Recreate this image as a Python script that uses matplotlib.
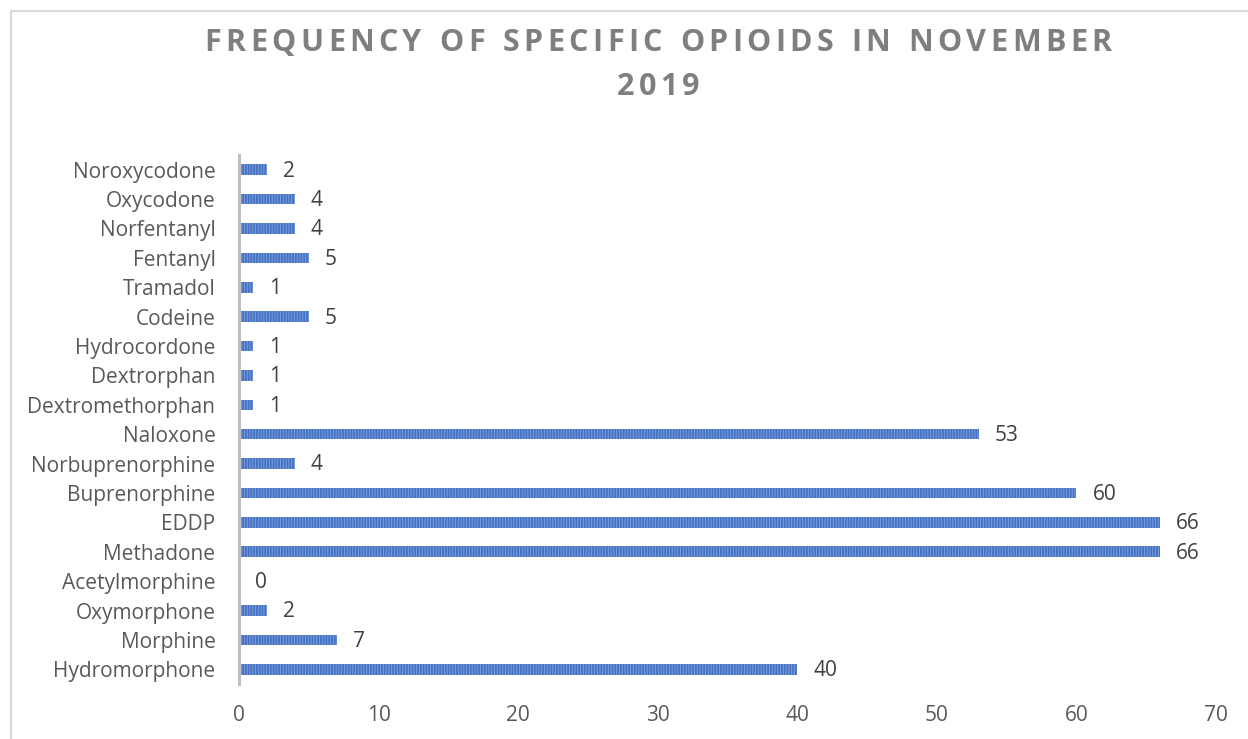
import matplotlib
matplotlib.use("Agg")
import matplotlib.pyplot as plt
from matplotlib.lines import Line2D

plt.rcParams["font.family"] = ["Open Sans", "DejaVu Sans"]
plt.rcParams["hatch.linewidth"] = 1.3

drugs = ["Hydromorphone", "Morphine", "Oxymorphone", "Acetylmorphine",
         "Methadone", "EDDP", "Buprenorphine", "Norbuprenorphine",
         "Naloxone", "Dextromethorphan", "Dextrorphan", "Hydrocordone",
         "Codeine", "Tramadol", "Fentanyl", "Norfentanyl", "Oxycodone",
         "Noroxycodone"]
counts = [40, 7, 2, 0, 66, 66, 60, 4, 53, 1, 1, 1, 5, 1, 5, 4, 4, 2]
x_ticks = [0, 10, 20, 30, 40, 50, 60, 70]

TITLE_LINES = ["FREQUENCY OF SPECIFIC OPIOIDS IN NOVEMBER", "2019"]
W, H = 1248, 739

fig = plt.figure(figsize=(W / 100, H / 100), dpi=100)
ax = fig.add_axes([239 / W, 1 - 684 / H, (1216 - 239) / W, (684 - 155) / H])

ypos = list(range(len(drugs)))
ax.barh(ypos, counts, height=0.36, color="#7d9ddb", edgecolor="#4472c4",
        linewidth=0, hatch="||||||")
for y, v in zip(ypos, counts):
    ax.annotate(str(v), (v, y), xytext=(11.5, -1), textcoords="offset points",
                va="center", ha="left", fontsize=15, color="#404040")

ax.set_xlim(0, 70)
ax.set_ylim(-0.5, len(drugs) - 0.5)
ax.set_xticks(x_ticks)
ax.set_yticks(ypos)
ax.set_yticklabels(drugs)
ax.tick_params(axis="both", length=0, labelsize=15, labelcolor="#595959")
ax.tick_params(axis="y", pad=17)
ax.tick_params(axis="x", pad=15)
for side in ["top", "right", "bottom"]:
    ax.spines[side].set_visible(False)
ax.spines["left"].set_color("#bfbfbf")
ax.spines["left"].set_linewidth(2.2)

# chart frame (only top and left edges fall inside the image)
fig.add_artist(Line2D([11 / W, 1.0], [1 - 11 / H, 1 - 11 / H],
                      transform=fig.transFigure, color="#d9d9d9", lw=1.5))
fig.add_artist(Line2D([11 / W, 11 / W], [0, 1 - 11 / H],
                      transform=fig.transFigure, color="#d9d9d9", lw=1.5))


def spaced_title(line, y_px, spacing_px, **kw):
    # draw the string one character at a time to get wide letter spacing
    fig.canvas.draw()
    r = fig.canvas.get_renderer()
    widths = []
    for ch in line:
        t = fig.text(0, 0, ch if ch != " " else "n", **kw)
        w = t.get_window_extent(r).width
        if ch == " ":
            w *= 0.45
        widths.append(w)
        t.remove()
    total = sum(widths) + spacing_px * (len(line) - 1)
    x = W / 2 + 34 - total / 2
    for ch, w in zip(line, widths):
        if ch != " ":
            fig.text(x / W, 1 - y_px / H, ch, ha="left", va="center", **kw)
        x += w + spacing_px


title_kw = dict(fontsize=22, fontweight="bold", color="#7f7f7f")
spaced_title(TITLE_LINES[0], 43, 4.4, **title_kw)
spaced_title(TITLE_LINES[1], 87, 4.4, **title_kw)

fig.savefig("out.png", dpi=100)
